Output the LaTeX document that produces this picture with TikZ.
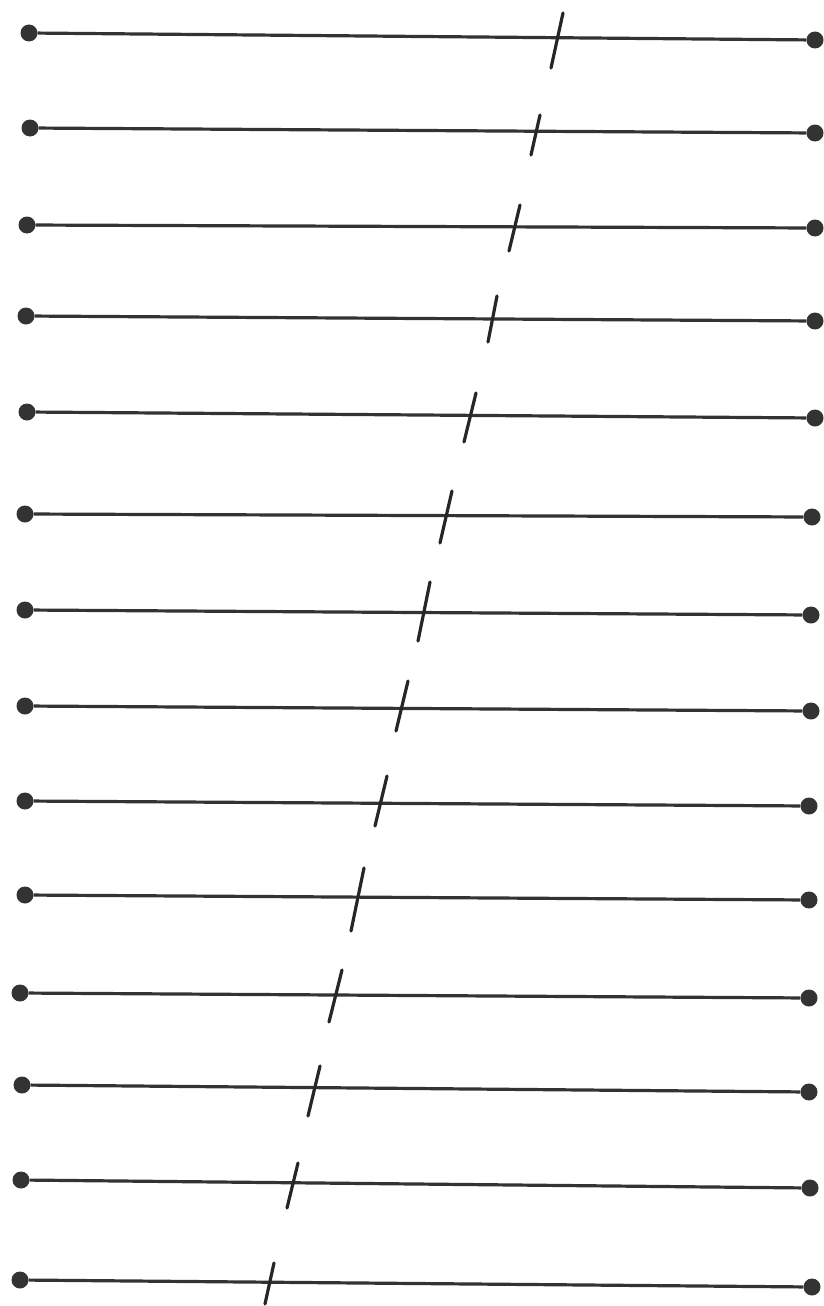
\documentclass[tikz,border=0pt]{standalone}
\begin{document}
\begin{tikzpicture}[x=1pt,y=-1pt,
  enddot/.style={circle,fill=black!80,inner sep=0pt,minimum size=17pt},
  rod/.style={line width=3.2pt,draw=black!80},
  tick/.style={line width=3.2pt,draw=black!85,line cap=round}]
\path[use as bounding box] (0,0) rectangle (824,1306);
\foreach \i/\lx/\ly/\rx/\ry/\tx/\ty/\bx/\by in {
  1/29/33/815/40/563/13/551/68,
  2/30/128/815/133/540/115/531/155,
  3/27/225/815/228/520/205/509/251,
  4/26/316/815/321/497/296/488/342,
  5/27/412/815/418/476/393/464/442,
  6/25/514/812/517/452/491/440/543,
  7/25/610/811/615/430/582/418/641,
  8/25/706/811/711/408/681/396/731,
  9/25/801/809/806/387/776/375/826,
  10/25/895/809/900/364/868/351/931,
  11/20/993/809/998/342/970/329/1022,
  12/22/1085/809/1092/320/1066/308/1116,
  13/21/1180/810/1188/298/1163/287/1208,
  14/20/1280/812/1287/274/1263/265/1304}{
  \node[enddot] (l\i) at (\lx,\ly) {};
  \node[enddot] (r\i) at (\rx,\ry) {};
  \draw[rod] (l\i) -- (r\i);
  \draw[tick] (\tx,\ty) -- (\bx,\by);
}
\end{tikzpicture}
\end{document}
